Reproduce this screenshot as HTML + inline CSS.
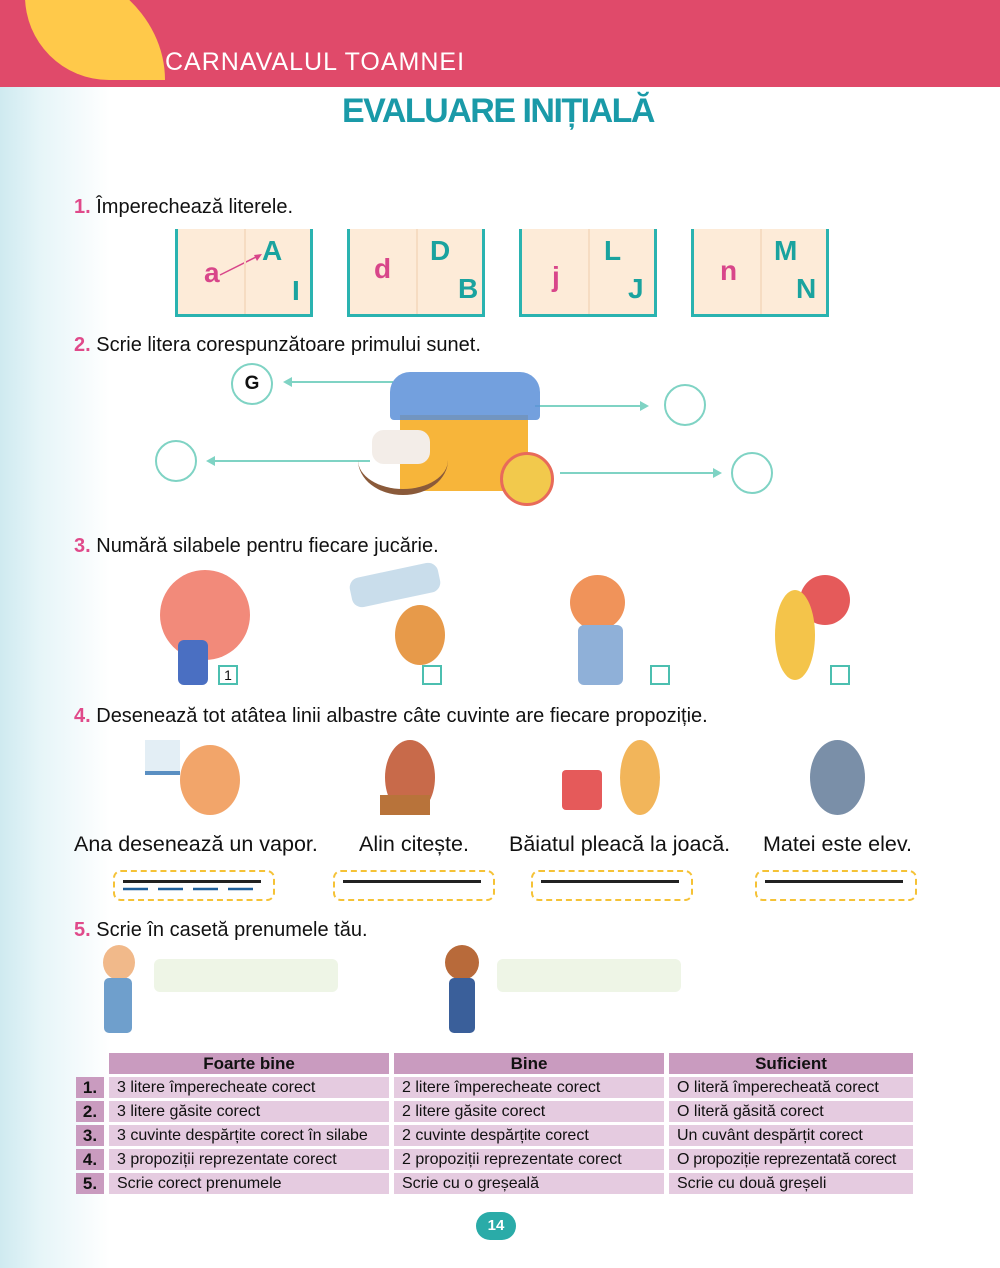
<!DOCTYPE html>
<html><head><meta charset="utf-8"><style>
*{margin:0;padding:0;box-sizing:border-box}
body{width:1000px;height:1268px;position:relative;overflow:hidden;font-family:"Liberation Sans",sans-serif;color:#111;
background:linear-gradient(90deg,#cfeaf0 0px,#e6f5f8 40px,#fff 110px,#fff 100%)}
.a{position:absolute}
.hdr{left:0;top:0;width:1000px;height:87px;background:#e04a6a}
.sun{left:25px;top:-40px;width:140px;height:120px;background:#ffc94a;border-radius:0 100% 0 60%/0 100% 0 70%}
.q{font-size:20px;white-space:nowrap}
.q b{color:#e04a8a;font-weight:bold}
.book{width:138px;height:88px;background:#fdebd8;border:3px solid #2ab3b0;border-top:none}
.book:after{content:"";position:absolute;left:66px;top:0;width:2px;height:85px;background:#f6dcc2}
.L{position:absolute;font-size:28px;font-weight:bold;color:#1aa39f}
.l{position:absolute;font-size:28px;font-weight:bold;color:#d8468a}
.circ{border:2.5px solid #7fd3c4;border-radius:50%;background:#fff}
.arr{height:2px;background:#7fd3c4}
.arr.r:after{content:"";position:absolute;right:-2px;top:-4px;border-left:9px solid #7fd3c4;border-top:5px solid transparent;border-bottom:5px solid transparent}
.arr.lf:after{content:"";position:absolute;left:-2px;top:-4px;border-right:9px solid #7fd3c4;border-top:5px solid transparent;border-bottom:5px solid transparent}
.sent{font-size:21.5px;white-space:nowrap}
.dbox{border:2px dashed #f5c236;border-radius:8px;height:31px}
.dbox i{position:absolute;left:8px;right:12px;top:8px;height:3px;background:#222}
.cb{width:20px;height:20px;border:2px solid #4cbfb0;background:#fff;font-size:14px;text-align:center;line-height:17px}
.name{background:#eef5e6;border-radius:6px;height:33px}
td{font-size:16px;height:21px;padding:0 0 0 8px;white-space:nowrap}
table{border-collapse:separate;border-spacing:5px 3px}
.th td{background:#c99bbf;font-weight:bold;text-align:center;font-size:17px;padding:0}
.r td{background:#e5cbe0}
.r td.n{background:#c99bbf;font-weight:bold;font-size:17px;width:28px;padding:0;text-align:center}
.blob{border-radius:50%}
</style></head><body>
<div class="a hdr"></div>
<div class="a sun"></div>
<div class="a" style="left:165px;top:48px;color:#fff;font-size:25px;letter-spacing:1px">CARNAVALUL TOAMNEI</div>
<div class="a" style="left:342px;top:92px;color:#1a9aa8;font-size:34px;font-weight:bold;letter-spacing:-1.5px">EVALUARE INIȚIALĂ</div>

<div class="a q" style="left:74px;top:196px"><b>1.</b> Împerechează literele.</div>
<div class="a book" style="left:175px;top:229px"><span class="l" style="left:26px;top:28px">a</span><span class="L" style="left:84px;top:6px">A</span><span class="L" style="left:114px;top:46px">I</span>
<svg class="a" style="left:40px;top:20px" width="50" height="30"><line x1="2" y1="26" x2="42" y2="6" stroke="#d8468a" stroke-width="1.5"/><polygon points="44,5 36,6 39,12" fill="#d8468a"/></svg></div>
<div class="a book" style="left:347px;top:229px"><span class="l" style="left:24px;top:24px">d</span><span class="L" style="left:80px;top:6px">D</span><span class="L" style="left:108px;top:44px">B</span></div>
<div class="a book" style="left:519px;top:229px"><span class="l" style="left:30px;top:32px">j</span><span class="L" style="left:82px;top:6px">L</span><span class="L" style="left:106px;top:44px">J</span></div>
<div class="a book" style="left:691px;top:229px"><span class="l" style="left:26px;top:26px">n</span><span class="L" style="left:80px;top:6px">M</span><span class="L" style="left:102px;top:44px">N</span></div>

<div class="a q" style="left:74px;top:334px"><b>2.</b> Scrie litera corespunzătoare primului sunet.</div>
<div class="a circ" style="left:231px;top:363px;width:42px;height:42px;text-align:center;line-height:38px;font-weight:bold;font-size:19px">G</div>
<div class="a arr lf" style="left:285px;top:381px;width:108px"></div>
<div class="a circ" style="left:664px;top:384px;width:42px;height:42px"></div>
<div class="a arr r" style="left:535px;top:405px;width:112px"></div>
<div class="a circ" style="left:155px;top:440px;width:42px;height:42px"></div>
<div class="a arr lf" style="left:208px;top:460px;width:162px"></div>
<div class="a circ" style="left:731px;top:452px;width:42px;height:42px"></div>
<div class="a arr r" style="left:560px;top:472px;width:160px"></div>
<div class="a" style="left:400px;top:415px;width:128px;height:76px;background:#f7b53a"></div>
<div class="a" style="left:390px;top:372px;width:150px;height:48px;background:#5b8fd8;border-radius:20px 20px 4px 4px;opacity:.85"></div>
<div class="a blob" style="left:500px;top:452px;width:54px;height:54px;background:#f2c94c;border:3px solid #e86a5a"></div>
<div class="a" style="left:358px;top:425px;width:90px;height:70px;border-bottom:6px solid #8a5a3a;border-radius:0 0 50% 50%"></div>
<div class="a" style="left:372px;top:430px;width:58px;height:34px;background:#f3ede8;border-radius:12px"></div>

<div class="a q" style="left:74px;top:535px"><b>3.</b> Numără silabele pentru fiecare jucărie.</div>
<div class="a blob" style="left:160px;top:570px;width:90px;height:90px;background:#f28a7a"></div>
<div class="a" style="left:178px;top:640px;width:30px;height:45px;background:#4a6fc2;border-radius:6px"></div>
<div class="a cb" style="left:218px;top:665px">1</div>
<div class="a" style="left:350px;top:570px;width:90px;height:30px;background:#c9ddeb;border-radius:10px;transform:rotate(-12deg)"></div>
<div class="a blob" style="left:395px;top:605px;width:50px;height:60px;background:#e79a4a"></div>
<div class="a cb" style="left:422px;top:665px"></div>
<div class="a blob" style="left:570px;top:575px;width:55px;height:55px;background:#f0935a"></div>
<div class="a" style="left:578px;top:625px;width:45px;height:60px;background:#8fb0d8;border-radius:6px"></div>
<div class="a cb" style="left:650px;top:665px"></div>
<div class="a blob" style="left:800px;top:575px;width:50px;height:50px;background:#e55a5a"></div>
<div class="a blob" style="left:775px;top:590px;width:40px;height:90px;background:#f4c44a"></div>
<div class="a cb" style="left:830px;top:665px"></div>

<div class="a q" style="left:74px;top:705px"><b>4.</b> Desenează tot atâtea linii albastre câte cuvinte are fiecare propoziție.</div>
<div class="a blob" style="left:180px;top:745px;width:60px;height:70px;background:#f2a56a"></div>
<div class="a" style="left:145px;top:740px;width:35px;height:35px;background:#e3eef5;border-bottom:4px solid #5a8fc2"></div>
<div class="a blob" style="left:385px;top:740px;width:50px;height:75px;background:#c86a4a"></div>
<div class="a" style="left:380px;top:795px;width:50px;height:20px;background:#b8733a"></div>
<div class="a blob" style="left:620px;top:740px;width:40px;height:75px;background:#f2b55a"></div>
<div class="a" style="left:562px;top:770px;width:40px;height:40px;background:#e55a5a;border-radius:4px"></div>
<div class="a blob" style="left:810px;top:740px;width:55px;height:75px;background:#7a8fa8"></div>

<div class="a sent" style="left:74px;top:832px">Ana desenează un vapor.</div>
<div class="a sent" style="left:359px;top:832px">Alin citește.</div>
<div class="a sent" style="left:509px;top:832px">Băiatul pleacă la joacă.</div>
<div class="a sent" style="left:763px;top:832px">Matei este elev.</div>
<div class="a dbox" style="left:113px;top:870px;width:162px"><i></i>
<svg class="a" style="left:8px;top:15px" width="140" height="5"><line x1="0" y1="2" x2="140" y2="2" stroke="#1f5f9a" stroke-width="2.5" stroke-dasharray="25,10"/></svg></div>
<div class="a dbox" style="left:333px;top:870px;width:162px"><i></i></div>
<div class="a dbox" style="left:531px;top:870px;width:162px"><i></i></div>
<div class="a dbox" style="left:755px;top:870px;width:162px"><i></i></div>

<div class="a q" style="left:74px;top:919px"><b>5.</b> Scrie în casetă prenumele tău.</div>
<div class="a blob" style="left:103px;top:945px;width:32px;height:35px;background:#f1b98a"></div>
<div class="a" style="left:104px;top:978px;width:28px;height:55px;background:#6f9fcc;border-radius:5px"></div>
<div class="a name" style="left:154px;top:959px;width:184px"></div>
<div class="a blob" style="left:445px;top:945px;width:34px;height:35px;background:#b86a3a"></div>
<div class="a" style="left:449px;top:978px;width:26px;height:55px;background:#3a5f9a;border-radius:5px"></div>
<div class="a name" style="left:497px;top:959px;width:184px"></div>

<table class="a" style="left:71px;top:1050px">
<tr class="th"><td style="background:none;width:28px"></td><td style="width:280px">Foarte bine</td><td style="width:270px">Bine</td><td style="width:244px">Suficient</td></tr>
<tr class="r"><td class="n">1.</td><td>3 litere împerecheate corect</td><td>2 litere împerecheate corect</td><td>O literă împerecheată corect</td></tr>
<tr class="r"><td class="n">2.</td><td>3 litere găsite corect</td><td>2 litere găsite corect</td><td>O literă găsită corect</td></tr>
<tr class="r"><td class="n">3.</td><td>3 cuvinte despărțite corect în silabe</td><td>2 cuvinte despărțite corect</td><td>Un cuvânt despărțit corect</td></tr>
<tr class="r"><td class="n">4.</td><td>3 propoziții reprezentate corect</td><td>2 propoziții reprezentate corect</td><td style="letter-spacing:-0.3px">O propoziție reprezentată corect</td></tr>
<tr class="r"><td class="n">5.</td><td>Scrie corect prenumele</td><td>Scrie cu o greșeală</td><td>Scrie cu două greșeli</td></tr>
</table>
<div class="a" style="left:476px;top:1212px;width:40px;height:28px;background:#2aaba8;border-radius:14px;color:#fff;font-weight:bold;font-size:15px;text-align:center;line-height:28px">14</div>
</body></html>
